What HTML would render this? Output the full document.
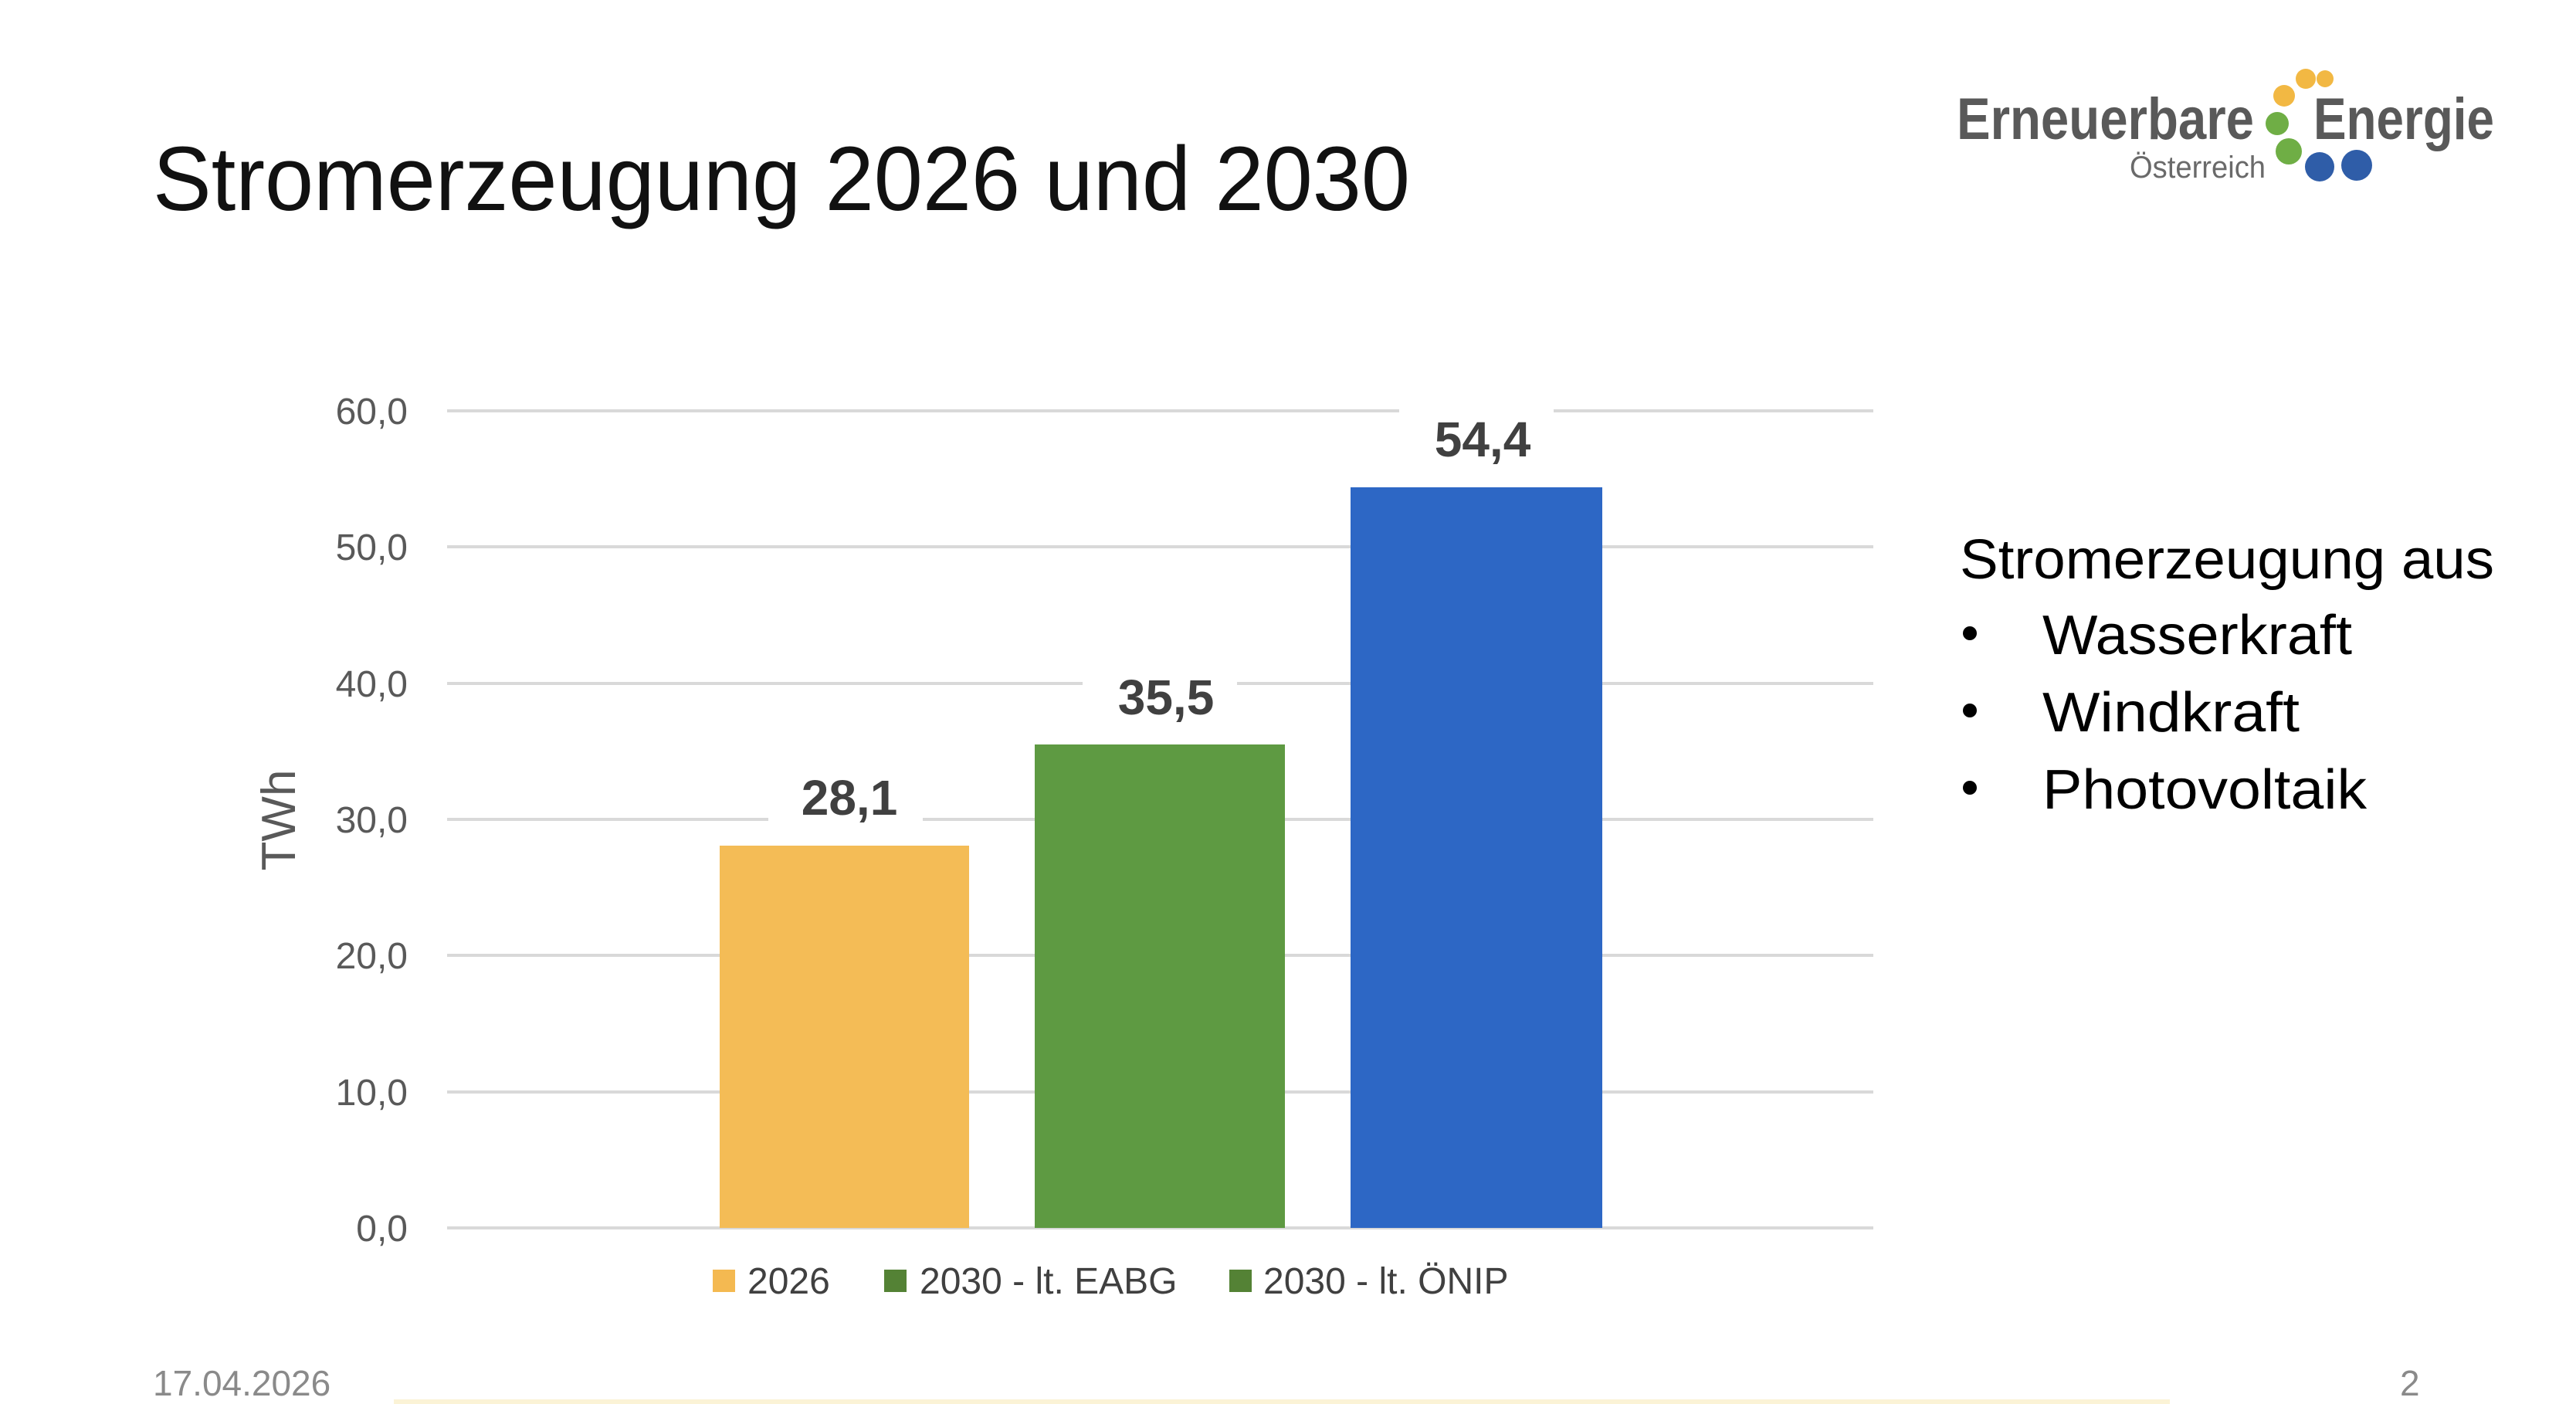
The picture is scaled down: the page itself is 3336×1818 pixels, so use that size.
<!DOCTYPE html>
<html><head><meta charset="utf-8"><style>
html,body{margin:0;padding:0;background:#fff;}
svg{display:block;}
</style></head><body>
<svg width="3336" height="1818" viewBox="0 0 3336 1818" xmlns="http://www.w3.org/2000/svg" font-family="Liberation Sans, sans-serif">
<rect width="3336" height="1818" fill="#fff"/>
<!-- title -->
<text x="198" y="272" font-size="118" fill="#111" textLength="1628" lengthAdjust="spacingAndGlyphs">Stromerzeugung 2026 und 2030</text>
<!-- logo -->
<text x="2534" y="180" font-size="76" fill="#595959" font-weight="bold" textLength="385" lengthAdjust="spacingAndGlyphs">Erneuerbare</text>
<text x="2996" y="180" font-size="76" fill="#595959" font-weight="bold" textLength="234" lengthAdjust="spacingAndGlyphs">Energie</text>
<text x="2758" y="230" font-size="40" fill="#6a6a6a" textLength="176" lengthAdjust="spacingAndGlyphs">Österreich</text>
<circle cx="2986" cy="102" r="13" fill="#F2B843"/>
<circle cx="3011" cy="102" r="11" fill="#F2B843"/>
<circle cx="2958" cy="124" r="14" fill="#F2B843"/>
<circle cx="2949" cy="160" r="15" fill="#6FAE45"/>
<circle cx="2964" cy="196" r="17" fill="#6FAE45"/>
<circle cx="3004" cy="216" r="19" fill="#2F5DA8"/>
<circle cx="3052" cy="214" r="20" fill="#2F5DA8"/>
<!-- gridlines -->
<g stroke="#d9d9d9" stroke-width="4">
<line x1="579" x2="2426" y1="532" y2="532"/>
<line x1="579" x2="2426" y1="708" y2="708"/>
<line x1="579" x2="2426" y1="885" y2="885"/>
<line x1="579" x2="2426" y1="1061" y2="1061"/>
<line x1="579" x2="2426" y1="1237" y2="1237"/>
<line x1="579" x2="2426" y1="1414" y2="1414"/>
<line x1="579" x2="2426" y1="1590" y2="1590"/>
</g>
<g font-size="48" fill="#595959" text-anchor="end">
<text x="528" y="549">60,0</text>
<text x="528" y="725">50,0</text>
<text x="528" y="902">40,0</text>
<text x="528" y="1078">30,0</text>
<text x="528" y="1254">20,0</text>
<text x="528" y="1431">10,0</text>
<text x="528" y="1607">0,0</text>
</g>
<text transform="translate(382,1062) rotate(-90)" font-size="62" fill="#595959" text-anchor="middle">TWh</text>
<!-- bars -->
<rect x="932" y="1095" width="323" height="495" fill="#F4BC56"/>
<rect x="1340" y="964" width="324" height="626" fill="#5E9A42"/>
<rect x="1749" y="631" width="326" height="959" fill="#2D67C5"/>
<!-- labels -->
<rect x="995" y="995" width="200" height="70" fill="#fff"/>
<rect x="1402" y="865" width="200" height="70" fill="#fff"/>
<rect x="1812" y="505" width="200" height="70" fill="#fff"/>
<g font-size="64" font-weight="bold" fill="#404040" text-anchor="middle">
<text x="1100" y="1055">28,1</text>
<text x="1510" y="925">35,5</text>
<text x="1920" y="591">54,4</text>
</g>
<!-- legend -->
<rect x="923" y="1644" width="29" height="29" fill="#F4B951"/>
<rect x="1145" y="1644" width="29" height="29" fill="#548235"/>
<rect x="1592" y="1644" width="29" height="29" fill="#548235"/>
<g font-size="48" fill="#404040">
<text x="968" y="1675">2026</text>
<text x="1191" y="1675">2030 - lt. EABG</text>
<text x="1636" y="1675">2030 - lt. ÖNIP</text>
</g>
<!-- right text -->
<text x="2538" y="749" font-size="72" fill="#000" textLength="692" lengthAdjust="spacingAndGlyphs">Stromerzeugung aus</text>
<circle cx="2551" cy="820" r="9" fill="#000"/>
<circle cx="2551" cy="920" r="9" fill="#000"/>
<circle cx="2551" cy="1020" r="9" fill="#000"/>
<text x="2645" y="847" font-size="72" fill="#000" textLength="401" lengthAdjust="spacingAndGlyphs">Wasserkraft</text>
<text x="2645" y="947" font-size="72" fill="#000" textLength="333" lengthAdjust="spacingAndGlyphs">Windkraft</text>
<text x="2645" y="1047" font-size="72" fill="#000" textLength="420" lengthAdjust="spacingAndGlyphs">Photovoltaik</text>
<!-- footer -->
<text x="198" y="1807" font-size="46" fill="#8a8a8a">17.04.2026</text>
<text x="3108" y="1807" font-size="46" fill="#8a8a8a">2</text>
<rect x="510" y="1812" width="2300" height="6" fill="#FBF3D6"/>
</svg>
</body></html>
